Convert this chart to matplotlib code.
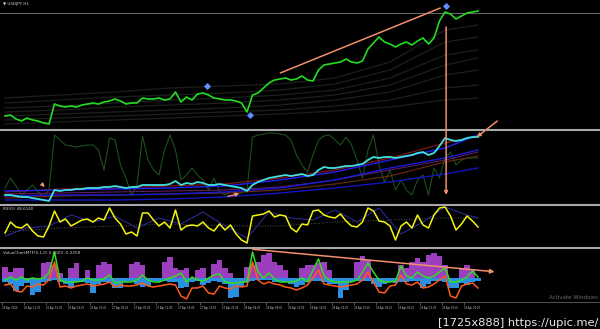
import matplotlib
matplotlib.use("Agg")
import matplotlib.pyplot as plt
from matplotlib.patches import ConnectionPatch
import numpy as np

# main window, one value per H1 bar (panel height units)
close = [14, 15, 11, 9, 12, 10, 9, 7, 6, 26,
         24, 23, 24, 23, 25, 26, 27, 26, 28, 29,
         31, 29, 26, 27, 27, 32, 31, 31, 32, 30,
         31, 38, 28, 33, 30, 36, 37, 35, 32, 31,
         30, 30, 29, 27, 18, 35, 37, 42, 47, 50,
         51, 52, 50, 51, 54, 50, 49, 60, 65, 66,
         67, 68, 71, 68, 67, 69, 81, 87, 93, 88,
         86, 83, 86, 88, 85, 89, 92, 86, 92, 109,
         118, 116, 111, 114, 117, 118, 119]
bid_level = 117

# slow lines are read at every 10th bar
slow_x = [0, 10, 20, 30, 40, 50, 60, 70, 80, 86]
bands = [
    [32, 35, 38, 42, 44, 46, 52, 68, 100, 105],
    [27, 30, 33, 35, 37, 40, 46, 60, 88, 93],
    [22, 24, 27, 30, 32, 35, 40, 52, 75, 80],
    [18, 20, 23, 25, 27, 30, 35, 45, 65, 72],
    [14, 16, 18, 20, 22, 25, 30, 38, 55, 60],
    [10, 12, 14, 16, 18, 20, 24, 30, 42, 45],
    [6, 8, 10, 12, 14, 16, 19, 23, 30, 32],
]
pivot_x = [36.7, 44.5, 80.2]
pivot_y = [44, 15, 124]

# second window
fast_line = [8, 8, 7, 6, 6, 5, 4, 3, 2, 13,
             12, 13, 13, 14, 14, 15, 15, 15, 16, 16,
             17, 16, 15, 16, 16, 18, 18, 18, 18, 18,
             19, 22, 18, 20, 19, 21, 20, 18, 18, 19,
             18, 17, 16, 15, 12, 18, 21, 23, 25, 26,
             27, 28, 27, 28, 29, 27, 28, 33, 36, 35,
             35, 36, 37, 37, 38, 39, 43, 46, 45, 46,
             46, 45, 46, 47, 48, 50, 51, 48, 50, 57,
             65, 63, 62, 63, 65, 66, 66]
stoch = [15, 25, 17, 8, 13, 18, 11, 7, 13, 68,
         63, 58, 57, 56, 57, 58, 58, 53, 33, 65,
         63, 38, 25, 8, 18, 67, 43, 33, 28, 53,
         68, 53, 23, 28, 35, 28, 23, 13, 25, 11,
         8, 11, 9, 10, 13, 66, 68, 69, 70, 70,
         69, 68, 63, 48, 38, 31, 48, 63, 67, 68,
         63, 58, 66, 58, 43, 25, 53, 68, 38, 21,
         33, 13, 23, 13, 8, 23, 28, 8, 35, 25,
         45, 51, 38, 43, 45, 45, 45]
blue_up = [12, 13, 14, 15, 17, 23, 31, 43, 55, 68]
blue_mid = [7, 8, 8, 9, 11, 15, 23, 35, 45, 53]
blue_low = [3, 3, 3, 4, 6, 10, 15, 21, 29, 35]
red_up = [11, 14, 15, 17, 19, 25, 33, 45, 60, 67]
red_low = [5, 7, 8, 9, 10, 13, 19, 27, 41, 47]
magenta = [9, 10, 11, 12, 13, 16, 23, 33, 43, 51]

# RSI window
rsi = [13, 24, 19, 18, 22, 15, 10, 9, 20, 35,
       24, 27, 20, 23, 26, 27, 24, 28, 26, 38,
       28, 22, 12, 14, 10, 33, 33, 26, 20, 24,
       18, 36, 16, 20, 21, 20, 24, 18, 15, 22,
       16, 21, 12, 6, 3, 30, 31, 32, 35, 29,
       31, 30, 18, 14, 22, 21, 35, 36, 31, 29,
       28, 32, 25, 20, 19, 24, 38, 35, 25, 24,
       20, 6, 20, 24, 18, 31, 21, 18, 31, 38,
       39, 30, 16, 22, 30, 25, 19]
rsi_sig_x = [0, 4, 8, 12, 16, 20, 24, 28, 32, 36, 40, 44, 48, 52, 56, 60,
             64, 68, 72, 76, 80, 84, 86]
rsi_sig = [10, 18, 20, 31, 24, 30, 18, 28, 22, 34, 20, 8, 34, 28, 26, 36,
           24, 38, 12, 24, 39, 31, 28]
rsi_slow = [14, 18, 20, 22, 20, 20, 24, 26, 28, 28]

# value chart window
hist_up = [11, 6, 10, 10, 0, 0, 0, 15, 16, 13,
           5, 0, 10, 15, 0, 8, 0, 13, 16, 14,
           0, 0, 0, 14, 16, 13, 0, 0, 0, 16,
           21, 10, 8, 10, 0, 8, 10, 0, 14, 18,
           10, 5, 0, 0, 11, 13, 16, 23, 25, 16,
           13, 8, 0, 0, 10, 13, 13, 15, 16, 8,
           0, 0, 0, 0, 16, 22, 18, 0, 0, 0,
           0, 0, 13, 10, 16, 20, 16, 23, 25, 22,
           13, 0, 0, 10, 13, 8, 0]
hist_dn = [-4, -6, -13, -8, -5, -17, -14, -4, -3, -2,
           -4, -6, -10, -4, -4, -5, -15, -6, -4, -5,
           -10, -10, -4, -3, -6, -9, -8, -3, -4, -3,
           -4, -4, -10, -9, -4, -3, -7, -5, -3, -4,
           -6, -20, -19, -8, -4, -3, -2, -2, -2, -4,
           -4, -4, -6, -9, -7, -4, -3, -3, -4, -6,
           -6, -20, -12, -4, -3, -3, -3, -6, -9, -6,
           -4, -5, -4, -4, -3, -3, -10, -6, -3, -3,
           -4, -10, -10, -5, -7, -4, -3]
vc_green = [-2, 1, -2, 1, -2, 0, -1, 0, 5, 26,
            -2, -4, -4, -4, -3, 0, -2, -2, -1, 3,
            -5, -4, -4, -4, -2, 3, -2, -4, -4, -2,
            0, 2, 5, -4, 1, -2, -3, 0, 3, 4,
            -4, -5, -5, -4, -4, 26, 6, 0, 5, -1,
            -4, -4, -4, -3, 0, -4, 8, 19, 2, -2,
            -4, -4, -4, -4, -2, 6, 15, 6, -2, -4,
            -4, -3, 12, 2, 0, 6, 2, 0, 2, 6,
            10, -4, -4, -2, 1, 7, 1]
vc_orange = [-7, -6, -13, -14, -8, -9, -6, -7, -2, 16,
             -9, -8, -10, -8, -7, -6, -8, -7, -6, -4,
             -9, -7, -8, -8, -7, -5, -8, -9, -8, -7,
             -6, -7, -18, -21, -10, -10, -8, -15, -16, -8,
             -10, -11, -8, -9, -8, 16, -2, -6, -4, -6,
             -7, -9, -10, -12, -10, -7, 0, 8, -6, -7,
             -8, -9, -8, -7, -6, -2, 6, -4, -14, -15,
             -8, -7, 3, -6, -7, -4, -10, -9, -6, -2,
             2, -18, -20, -8, -6, -5, -10]

time_labels = ["24 Apr 2020", "26 Apr 11:00", "26 Apr 15:00", "26 Apr 19:00",
               "26 Apr 23:00", "27 Apr 03:00", "27 Apr 07:00", "27 Apr 11:00",
               "27 Apr 15:00", "27 Apr 19:00", "27 Apr 23:00", "28 Apr 04:00",
               "28 Apr 08:00", "28 Apr 12:00", "28 Apr 16:00", "28 Apr 20:00",
               "29 Apr 00:00", "29 Apr 04:00", "29 Apr 08:00", "29 Apr 12:00",
               "29 Apr 16:00", "29 Apr 20:00"]

# hand drawn trend lines (bar, value)
trend_main = [(49.6, 56), (79.6, 123)]
trend_vc = [(44.5, 29), (89.5, 6)]
arrow_small1 = [(6.5, 20), (7.6, 14)]
arrow_small2 = [(40.0, 6), (43.1, 10)]

bars = np.arange(len(close))
H = 329.0
XL = (-5 / 5.5, 595 / 5.5)
ORANGE = "#f0906a"
SEP = "#a8a8a8"

fig = plt.figure(figsize=(6, 3.29), dpi=100, facecolor="black")


def panel(top, bottom, sep=True):
    ax = fig.add_axes([0, 1 - bottom / H, 1, (bottom - top) / H])
    ax.set_facecolor("black")
    ax.set_xlim(XL)
    ax.set_xticks([])
    ax.set_yticks([])
    for s in ax.spines.values():
        s.set_visible(False)
    if sep:
        ax.spines["top"].set_visible(True)
        ax.spines["top"].set_color(SEP)
        ax.spines["top"].set_linewidth(1.5)
    return ax


ax1 = panel(0, 128, sep=False)
ax2 = panel(130, 203)
ax3 = panel(205, 246)
ax4 = panel(248, 302)

# main window
ax1.set_ylim(2, 130)
for b in bands:
    ax1.plot(slow_x, b, color="#1c201c", lw=0.9)
ax1.axhline(bid_level, color="#6a6a6a", lw=0.7)
ax1.plot(bars, close, color="#22dd22", lw=1.2)
ax1.scatter(pivot_x, pivot_y, marker="D", s=7, color="#5f8fff", zorder=5)
ax1.annotate("", xy=trend_main[1], xytext=trend_main[0],
             arrowprops=dict(arrowstyle="-", color=ORANGE, lw=1.1))
ax1.text(0.005, 0.985, "\u25bc USDJPY,H1", transform=ax1.transAxes,
         fontsize=3, color="#d0d0d0", va="top")

# second window
ax2.set_ylim(0, 73)
ax2.plot(bars, stoch, color="#1c4f1c", lw=0.8)
ax2.plot(slow_x, magenta, color="#6a1f6a", lw=0.7)
ax2.plot(slow_x, red_low, color="#6e2a10", lw=0.8)
ax2.plot(slow_x, red_up, color="#8b1a1a", lw=0.8)
ax2.plot(slow_x, blue_low, color="#1515c0", lw=1.0)
ax2.plot(slow_x, blue_mid, color="#1a1ad8", lw=1.0)
ax2.plot(slow_x, blue_up, color="#2020f0", lw=1.0)
ax2.plot(bars, fast_line, color="#40e0e0", lw=1.3)
for a in (arrow_small1, arrow_small2):
    ax2.annotate("", xy=a[1], xytext=a[0],
                 arrowprops=dict(arrowstyle="-|>", color=ORANGE, lw=1.0,
                                 mutation_scale=5))

# RSI window
ax3.set_ylim(0, 41)
ax3.plot(slow_x, rsi_slow, color="#555555", lw=0.7, ls=":")
ax3.plot(rsi_sig_x, rsi_sig, color="#2a2a90", lw=0.8)
ax3.plot(bars, rsi, color="#f5f50a", lw=1.1)
ax3.text(0.005, 0.95, "RSI(5) 48.6140", transform=ax3.transAxes,
         fontsize=3, color="#d0d0d0", va="top")

# value chart window
ax4.set_ylim(-24, 30)
ax4.bar(bars, hist_up, width=1.0, color="#9b3fbf", linewidth=0)
ax4.bar(bars, hist_dn, width=1.0, color="#2a8fe0", linewidth=0)
ax4.plot(bars, vc_orange, color="#ff5a1a", lw=1.1)
ax4.plot(bars, vc_green, color="#33dd22", lw=1.1)
ax4.annotate("", xy=trend_vc[1], xytext=trend_vc[0],
             arrowprops=dict(arrowstyle="-|>", color=ORANGE, lw=1.1,
                             mutation_scale=6))
ax4.text(0.005, 0.95, "ValueChartMTF(5,1,0) 0.0000 -0.2258",
         transform=ax4.transAxes, fontsize=3, color="#d0d0d0", va="top")
ax4.spines["bottom"].set_visible(True)
ax4.spines["bottom"].set_color("#606060")
ax4.spines["bottom"].set_linewidth(0.6)
ax4.set_xticks(np.arange(len(time_labels)) * 4 - 0.5)
ax4.set_xticklabels(time_labels, fontsize=1.8, color="#c8c8c8", ha="left")
ax4.tick_params(axis="x", length=2, width=0.4, color="#909090", pad=1.2)

# vertical arrow from the top down into the second window
con = ConnectionPatch(xyA=(80.2, 103), coordsA=ax1.transData,
                      xyB=(80.2, 8), coordsB=ax2.transData,
                      arrowstyle="-|>", color=ORANGE, lw=1.1, mutation_scale=5)
fig.add_artist(con)
con2 = ConnectionPatch(xyA=(89.5, 9), coordsA=ax1.transData,
                       xyB=(85.8, 66), coordsB=ax2.transData,
                       arrowstyle="-|>", color=ORANGE, lw=1.1, mutation_scale=5)
fig.add_artist(con2)

fig.text(0.997, 0.088, "Activate Windows", ha="right", va="bottom",
         fontsize=4, color="#6a6a6a")
fig.text(0.997, 0.004, "[1725x888] https://upic.me/", ha="right", va="bottom",
         fontsize=8.2, color="#e8e8e8", family="DejaVu Sans")

fig.savefig("out.png", dpi=100, facecolor="black")
